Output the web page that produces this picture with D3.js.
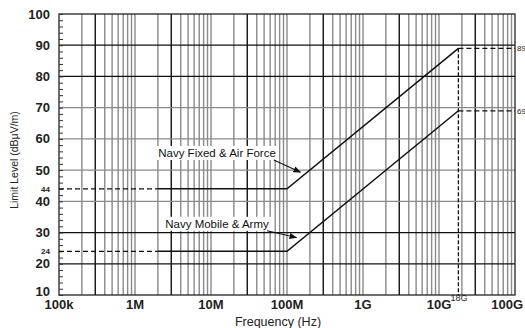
<!DOCTYPE html>
<html>
<head>
<meta charset="utf-8">
<script src="https://cdn.jsdelivr.net/npm/d3@7"></script>
<style>
  body { margin: 0; background: #fff; }
  svg text { font-family: "Liberation Sans", Arial, sans-serif; }
</style>
</head>
<body>
<div id="chart"></div>
<script>
// data
const freqTicks = [1e5, 1e6, 1e7, 1e8, 1e9, 1e10, 1e11];
const freqLabels = ["100k", "1M", "10M", "100M", "1G", "10G", "100G"];
const levelTicks = [10, 20, 30, 40, 50, 60, 70, 80, 90, 100];
const darkLevels = [20, 30, 80, 90];
const fixedAirForce = [[2e6, 44], [1e8, 44], [1.8e10, 89]];
const mobileArmy = [[2e6, 24], [1e8, 24], [1.8e10, 69]];
const startLevels = [44, 24];
const endLevels = [89, 69];
const annotations = [
  { text: "Navy Fixed & Air Force", f: 1.2e7, v: 55.5, tipF: 1.5e8, tipV: 49.3 },
  { text: "Navy Mobile & Army", f: 1.2e7, v: 32.8, tipF: 1.33e8, tipV: 28.4 }
];

const W = 525, H = 328;
const margin = { top: 14, right: 10, bottom: 33, left: 59 };

const svg = d3.select("#chart").append("svg")
  .attr("width", W).attr("height", H);

const x = d3.scaleLog().domain([1e5, 1e11]).range([margin.left, W - margin.right]);
const y = d3.scaleLinear().domain([10, 100]).range([H - margin.bottom, margin.top]);

// vertical grid: 2..9 of each decade
const minor = [];
for (let e = 5; e < 11; e++) {
  for (let m = 1; m <= 9; m++) minor.push(m * Math.pow(10, e));
}
svg.append("g").selectAll("line")
  .data(minor.filter(d => d > 1e5))
  .join("line")
  .attr("x1", d => x(d)).attr("x2", d => x(d))
  .attr("y1", y(10)).attr("y2", y(100))
  .attr("stroke", d => {
    const m = Math.round(d / Math.pow(10, Math.floor(Math.log10(d) + 1e-9)));
    return m === 3 ? "#111" : "#8a8a8a";
  })
  .attr("stroke-width", 1.4);

// horizontal grid
svg.append("g").selectAll("line")
  .data(levelTicks.slice(1, -1))
  .join("line")
  .attr("x1", x(1e5)).attr("x2", x(1e11))
  .attr("y1", d => y(d)).attr("y2", d => y(d))
  .attr("stroke", d => darkLevels.includes(d) ? "#111" : "#8a8a8a")
  .attr("stroke-width", 1.3);

// frame
svg.append("rect")
  .attr("x", x(1e5)).attr("y", y(100))
  .attr("width", x(1e11) - x(1e5)).attr("height", y(10) - y(100))
  .attr("fill", "none").attr("stroke", "#222").attr("stroke-width", 1.3);

// y axis with inward minor ticks
const yAxis = d3.axisLeft(y)
  .tickValues(d3.range(10, 101, 2))
  .tickSize(-4)
  .tickFormat("");
svg.append("g")
  .attr("transform", `translate(${x(1e5)},0)`)
  .call(yAxis)
  .call(g => g.select(".domain").remove())
  .call(g => g.selectAll("line").attr("stroke", "#333"));

svg.append("g").selectAll("text")
  .data(levelTicks)
  .join("text")
  .attr("x", 50).attr("y", d => y(d))
  .attr("dy", d => d === 10 ? "0.1em" : "0.35em")
  .attr("text-anchor", "end")
  .attr("font-size", 13).attr("font-weight", "bold")
  .attr("fill", "#222")
  .text(d => d);

// x labels
svg.append("g").selectAll("text")
  .data(freqTicks)
  .join("text")
  .attr("x", (d, i) => i === freqTicks.length - 1 ? W - 2 : x(d))
  .attr("y", 309)
  .attr("text-anchor", (d, i) => i === freqTicks.length - 1 ? "end" : "middle")
  .attr("font-size", 13).attr("font-weight", "bold")
  .attr("fill", "#222")
  .text((d, i) => freqLabels[i]);

svg.append("text")
  .attr("x", x(1.8e10) - 8).attr("y", 301)
  .attr("font-size", 9).attr("fill", "#222")
  .text("18G");

// axis titles
svg.append("text")
  .attr("x", 278).attr("y", 326)
  .attr("text-anchor", "middle").attr("font-size", 12.5).attr("fill", "#222")
  .text("Frequency (Hz)");

svg.append("text")
  .attr("transform", "translate(18,160) rotate(-90)")
  .attr("text-anchor", "middle").attr("font-size", 10.5).attr("fill", "#222")
  .text("Limit Level (dBμV/m)");

// dashed extensions
const dash = "5,3";
svg.append("g").selectAll("line")
  .data(startLevels)
  .join("line")
  .attr("x1", x(1e5)).attr("x2", x(2e6))
  .attr("y1", d => y(d)).attr("y2", d => y(d))
  .attr("stroke", "#111").attr("stroke-width", 1.3).attr("stroke-dasharray", dash);

svg.append("g").selectAll("line")
  .data(endLevels)
  .join("line")
  .attr("x1", x(1.8e10)).attr("x2", x(1e11))
  .attr("y1", d => y(d)).attr("y2", d => y(d))
  .attr("stroke", "#111").attr("stroke-width", 1.3).attr("stroke-dasharray", dash);

svg.append("line")
  .attr("x1", x(1.8e10)).attr("x2", x(1.8e10))
  .attr("y1", y(89)).attr("y2", y(10))
  .attr("stroke", "#111").attr("stroke-width", 1.3).attr("stroke-dasharray", "4,2");

// small level labels
svg.append("g").selectAll("text")
  .data(startLevels)
  .join("text")
  .attr("x", 50).attr("y", d => y(d)).attr("dy", "0.35em")
  .attr("text-anchor", "end").attr("font-size", 8).attr("font-weight", "bold")
  .attr("fill", "#222")
  .text(d => d);

svg.append("g").selectAll("text")
  .data(endLevels)
  .join("text")
  .attr("x", x(1e11) + 2).attr("y", d => y(d)).attr("dy", "0.35em")
  .attr("font-size", 8).attr("fill", "#222")
  .text(d => d);

// limit lines
const line = d3.line().x(d => x(d[0])).y(d => y(d[1]));
[fixedAirForce, mobileArmy].forEach(s => {
  svg.append("path")
    .attr("d", line(s))
    .attr("fill", "none").attr("stroke", "#111").attr("stroke-width", 1.5);
});

// annotations
svg.append("defs").append("marker")
  .attr("id", "arr").attr("viewBox", "0 0 10 10")
  .attr("refX", 9).attr("refY", 5)
  .attr("markerWidth", 7).attr("markerHeight", 7)
  .attr("orient", "auto")
  .append("path").attr("d", "M0,1 L10,5 L0,9 Z").attr("fill", "#111");

annotations.forEach(a => {
  const g = svg.append("g");
  const t = g.append("text")
    .attr("x", x(a.f)).attr("y", y(a.v)).attr("dy", "0.35em")
    .attr("text-anchor", "middle").attr("font-size", 11.5).attr("fill", "#111")
    .text(a.text);
  const b = t.node().getBBox();
  g.insert("rect", "text")
    .attr("x", b.x - 3).attr("y", b.y - 1)
    .attr("width", b.width + 6).attr("height", b.height + 2)
    .attr("fill", "#fff");
  g.append("line")
    .attr("x1", b.x + b.width - 2).attr("y1", b.y + b.height + 1)
    .attr("x2", x(a.tipF)).attr("y2", y(a.tipV))
    .attr("stroke", "#111").attr("stroke-width", 1.1)
    .attr("marker-end", "url(#arr)");
});
</script>
</body>
</html>
